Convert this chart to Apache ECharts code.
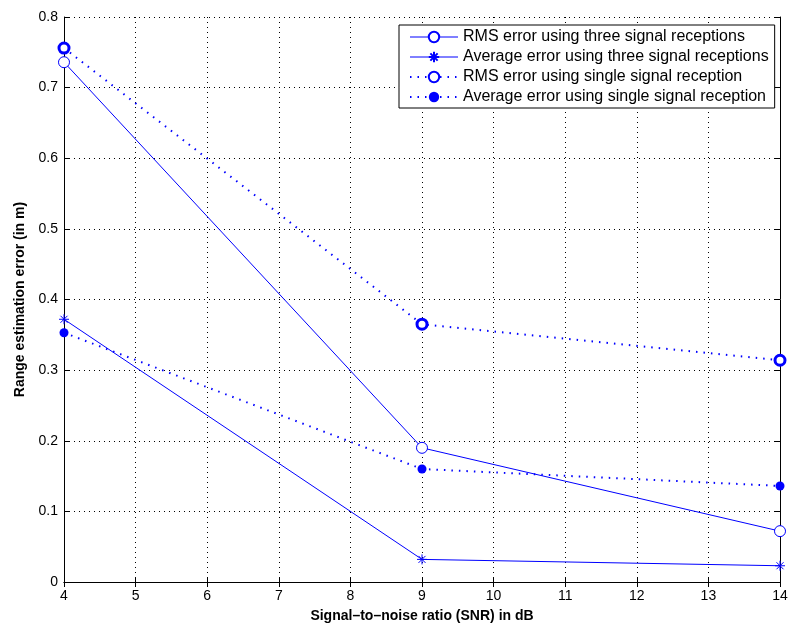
<!DOCTYPE html>
<html>
<head>
<meta charset="utf-8">
<script src="https://cdn.jsdelivr.net/npm/echarts@6/dist/echarts.min.js"></script>
<style>
  html, body { margin: 0; padding: 0; background: #fff; }
  #chart { width: 793px; height: 628px; }
</style>
</head>
<body>
<div id="chart"></div>
<script>
// SNR values (dB) and range estimation errors (m)
const snr = [4, 9, 14];
const rmsThree = [0.736, 0.190, 0.072];
const avgThree = [0.372, 0.032, 0.023];
const rmsSingle = [0.756, 0.365, 0.314];
const avgSingle = [0.353, 0.160, 0.136];

const seriesNames = [
  'RMS error using three signal receptions',
  'Average error using three signal receptions',
  'RMS error using single signal reception',
  'Average error using single signal reception'
];

const BLUE = '#0000ff';
const FONT = 'Liberation Sans, Arial, Helvetica, sans-serif';
const asterisk = 'path://M5 0 L5 10 M0 5 L10 5 M1.5 1.5 L8.5 8.5 M1.5 8.5 L8.5 1.5';
const DOTS = [1.5, 6];

function pairs(ys) { return snr.map((x, i) => [x, ys[i]]); }

const chart = echarts.init(document.getElementById('chart'), null, { renderer: 'canvas' });

const gridLine = { show: true, lineStyle: { color: '#000', type: [1, 4], width: 1 } };

chart.setOption({
  animation: false,
  backgroundColor: '#fff',
  grid: { left: 64, right: 13, top: 17, bottom: 41, containLabel: false },
  legend: {
    orient: 'vertical',
    left: 399, top: 25,
    data: [
      { name: seriesNames[0], lineStyle: { width: 1, type: 'solid' } },
      { name: seriesNames[1], lineStyle: { width: 1, type: 'solid' } },
      { name: seriesNames[2], lineStyle: { width: 2, type: DOTS } },
      { name: seriesNames[3], lineStyle: { width: 2, type: DOTS } }
    ],
    itemWidth: 48, itemHeight: 13, itemGap: 4,
    padding: [4, 6, 3, 10],
    borderColor: '#000', borderWidth: 1,
    backgroundColor: '#fff',
    textStyle: { fontFamily: FONT, fontSize: 16, color: '#000' }
  },
  xAxis: [{
    type: 'value', min: 4, max: 14, interval: 1,
    axisLine: { show: true, onZero: false, lineStyle: { color: '#000' } },
    axisTick: { inside: true, length: 5, lineStyle: { color: '#000' } },
    axisLabel: { fontFamily: FONT, fontSize: 14, color: '#000', margin: 7 },
    splitLine: gridLine,
    name: 'Signal\u2013to\u2013noise ratio (SNR) in dB',
    nameLocation: 'middle', nameGap: 27,
    nameTextStyle: { fontFamily: FONT, fontSize: 14, fontWeight: 'bold', color: '#000' }
  }, {
    type: 'value', min: 4, max: 14, interval: 1, position: 'top',
    axisLine: { show: true, lineStyle: { color: '#000' } },
    axisTick: { inside: true, length: 5, lineStyle: { color: '#000' } },
    axisLabel: { show: false }, splitLine: { show: false }
  }],
  yAxis: [{
    type: 'value', min: 0, max: 0.8, interval: 0.1,
    axisLine: { show: true, onZero: false, lineStyle: { color: '#000' } },
    axisTick: { inside: true, length: 5, lineStyle: { color: '#000' } },
    axisLabel: { fontFamily: FONT, fontSize: 14, color: '#000', margin: 6 },
    splitLine: gridLine,
    name: 'Range estimation error (in m)',
    nameLocation: 'middle', nameGap: 36,
    nameTextStyle: { fontFamily: FONT, fontSize: 14, fontWeight: 'bold', color: '#000' }
  }, {
    type: 'value', min: 0, max: 0.8, interval: 0.1, position: 'right',
    axisLine: { show: true, lineStyle: { color: '#000' } },
    axisTick: { inside: true, length: 5, lineStyle: { color: '#000' } },
    axisLabel: { show: false }, splitLine: { show: false }
  }],
  series: [{
    name: seriesNames[0], type: 'line', data: pairs(rmsThree),
    symbol: 'circle', symbolSize: 11,
    lineStyle: { color: BLUE, width: 1 },
    itemStyle: { color: '#fff', borderColor: BLUE, borderWidth: 1 }
  }, {
    name: seriesNames[1], type: 'line', data: pairs(avgThree),
    symbol: asterisk, symbolSize: 10,
    lineStyle: { color: BLUE, width: 1 },
    itemStyle: { color: BLUE, borderColor: BLUE, borderWidth: 1 }
  }, {
    name: seriesNames[2], type: 'line', data: pairs(rmsSingle),
    symbol: 'circle', symbolSize: 10,
    lineStyle: { color: BLUE, width: 2, type: DOTS },
    itemStyle: { color: '#fff', borderColor: BLUE, borderWidth: 3 }
  }, {
    name: seriesNames[3], type: 'line', data: pairs(avgSingle),
    symbol: 'circle', symbolSize: 9,
    lineStyle: { color: BLUE, width: 2, type: DOTS },
    itemStyle: { color: BLUE, borderColor: BLUE, borderWidth: 0 }
  }]
});
</script>
</body>
</html>
